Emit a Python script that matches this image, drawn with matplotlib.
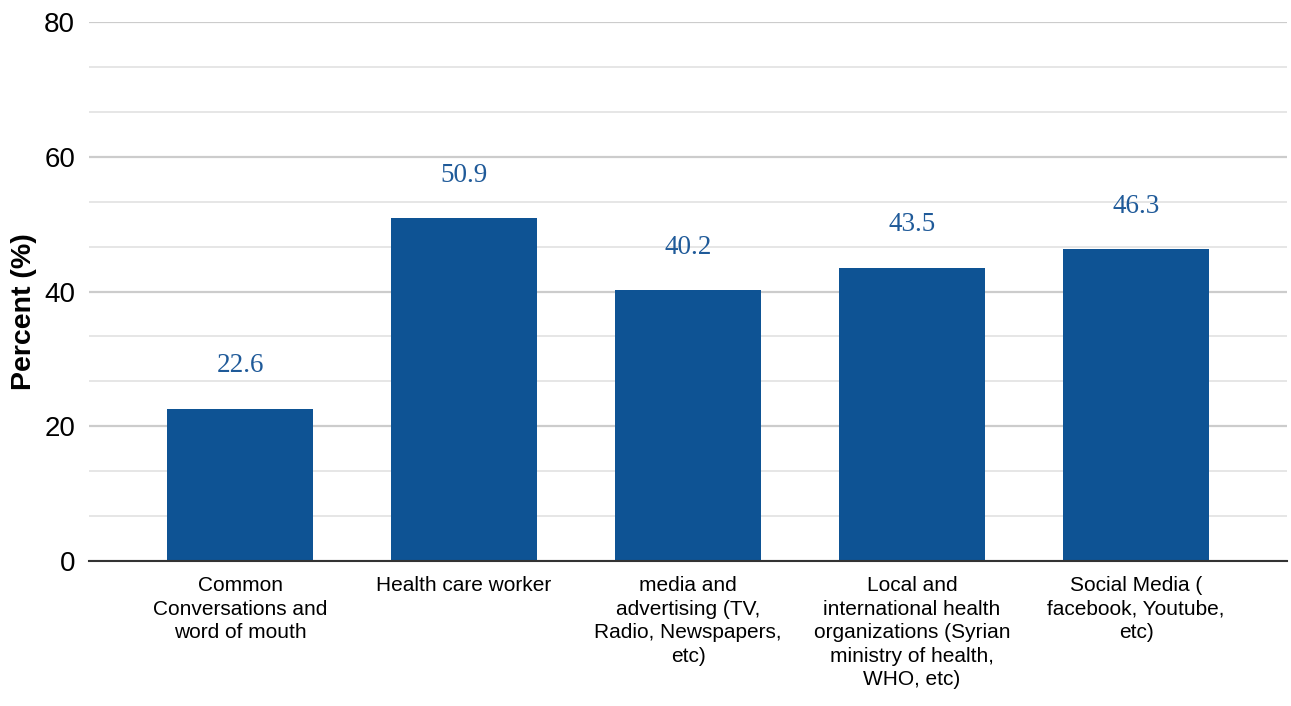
import matplotlib
matplotlib.use("Agg")
import matplotlib.pyplot as plt
import numpy as np

# Datos
categorias = [
    "Common\nConversations and\nword of mouth",
    "Health care worker",
    "media and\nadvertising (TV,\nRadio, Newspapers,\netc)",
    "Local and\ninternational health\norganizations (Syrian\nministry of health,\nWHO, etc)",
    "Social Media (\nfacebook, Youtube,\netc)",
]
porcentajes = [22.6, 50.9, 40.2, 43.5, 46.3]
y_ticks = [0, 20, 40, 60, 80]

color_barra = "#0e5394"
color_etiqueta = "#1f5a99"

fig = plt.figure(figsize=(12.91, 7.06), dpi=100)
ax = fig.add_axes([0.069, 0.2054, 0.9279, 0.7634])

x = np.arange(len(categorias))
ax.bar(x, porcentajes, width=0.65, color=color_barra, zorder=3)

for xi, v in zip(x, porcentajes):
    ax.annotate(f"{v:.1f}", (xi, v), xytext=(0, 31), textcoords="offset points",
                ha="center", va="center", fontsize=19.5, color=color_etiqueta,
                family="Liberation Serif")

ax.set_xlim(-0.674, 4.674)
ax.set_ylim(0, 80)
ax.set_yticks(y_ticks)
ax.set_yticks(np.arange(0, 80.1, 20 / 3), minor=True)
ax.grid(axis="y", which="major", color="#cccccc", linewidth=1.6, zorder=0)
ax.grid(axis="y", which="minor", color="#e6e6e6", linewidth=1.4, zorder=0)
ax.tick_params(axis="y", which="both", length=0, labelsize=20, pad=10)
ax.tick_params(axis="x", length=0, labelsize=15, pad=11)
ax.set_xticks(x)
ax.set_xticklabels(categorias, family="Liberation Sans", linespacing=1.3)
for lab in ax.get_yticklabels():
    lab.set_family("Liberation Sans")

for s in ["top", "right", "left"]:
    ax.spines[s].set_visible(False)
ax.spines["bottom"].set_color("#333333")
ax.spines["bottom"].set_linewidth(1.5)
ax.spines["bottom"].set_zorder(4)

ax.set_ylabel("Percent (%)", fontsize=20.5, fontweight="bold", family="Liberation Sans")
ax.yaxis.set_label_coords(-0.0434, 0.463)

fig.savefig("out.png", dpi=100)
